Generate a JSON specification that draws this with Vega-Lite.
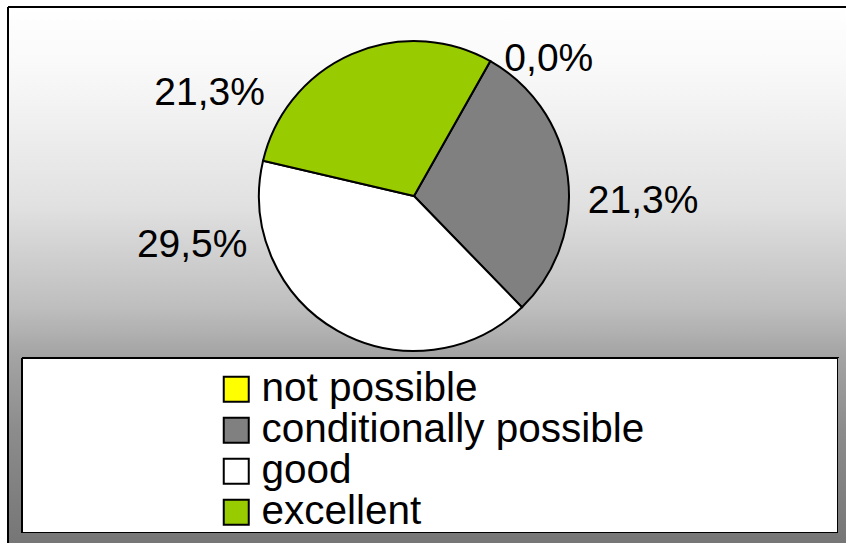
{
  "$schema": "https://vega.github.io/schema/vega-lite/v6.json",
  "background": "white",
  "padding": {"left": 7, "top": 6, "right": 0, "bottom": 0},
  "config": {
    "view": {"stroke": null},
    "font": "Liberation Sans",
    "locale": {"number": {"decimal": ",", "thousands": ".", "grouping": [3], "currency": ["", " €"]}}
  },
  "datasets": {
    "pie": [
      {"idx": 1, "category": "not possible", "share": 0},
      {"idx": 2, "category": "conditionally possible", "share": 0.213},
      {"idx": 3, "category": "good", "share": 0.295},
      {"idx": 4, "category": "excellent", "share": 0.213}
    ]
  },
  "columns": 4,
  "align": "each",
  "bounds": "flush",
  "spacing": 0,
  "concat": [
    {
      "data": {"name": "pie"}, "width": 14, "height": 27,
      "view": {"fill": {"gradient": "linear", "x1": 0, "y1": 0, "x2": 0, "y2": 1, "stops": [{"offset": 0, "color": "#ffffff"}, {"offset": 1, "color": "#fcfcfc"}]},
               "stroke": "black", "strokeWidth": 2, "strokeDash": [14, 41, 27, 0]},
      "mark": {"type": "text", "text": "", "clip": true}, "encoding": {}
    },
    {
      "data": {"name": "pie"}, "width": 784, "height": 27,
      "view": {"fill": {"gradient": "linear", "x1": 0, "y1": 0, "x2": 0, "y2": 1, "stops": [{"offset": 0, "color": "#ffffff"}, {"offset": 1, "color": "#fcfcfc"}]},
               "stroke": "black", "strokeWidth": 2, "strokeDash": [784, 10000]},
      "mark": {"type": "text", "text": "", "clip": true}, "encoding": {}
    },
    {
      "data": {"name": "pie"}, "width": 32, "height": 27,
      "view": {"fill": {"gradient": "linear", "x1": 0, "y1": 0, "x2": 0, "y2": 1, "stops": [{"offset": 0, "color": "#ffffff"}, {"offset": 1, "color": "#fcfcfc"}]},
               "stroke": "black", "strokeWidth": 2, "strokeDash": [32, 10000]},
      "mark": {"type": "text", "text": "", "clip": true}, "encoding": {}
    },
    {
      "data": {"name": "pie"}, "width": 8, "height": 27,
      "view": {"fill": {"gradient": "linear", "x1": 0, "y1": 0, "x2": 0, "y2": 1, "stops": [{"offset": 0, "color": "#ffffff"}, {"offset": 1, "color": "#fcfcfc"}]},
               "stroke": "black", "strokeWidth": 2, "strokeDash": [8, 10000]},
      "mark": {"type": "text", "text": "", "clip": true}, "encoding": {}
    },
    {
      "data": {"name": "pie"}, "width": 14, "height": 324,
      "view": {"fill": {"gradient": "linear", "x1": 0, "y1": 0, "x2": 0, "y2": 1, "stops": [
          {"offset": 0, "color": "#fcfcfc"}, {"offset": 0.082, "color": "#fafafa"}, {"offset": 0.1975, "color": "#f4f4f4"},
          {"offset": 0.528, "color": "#e1e1e1"}, {"offset": 0.645, "color": "#d4d4d4"}, {"offset": 0.843, "color": "#bebebe"},
          {"offset": 0.991, "color": "#a4a4a4"}, {"offset": 1, "color": "#a3a3a3"}]},
               "stroke": "black", "strokeWidth": 2, "strokeDash": [0, 352, 324, 0]},
      "mark": {"type": "text", "text": "", "clip": true}, "encoding": {}
    },
    {
      "data": {"name": "pie"},
      "width": 784,
      "height": 324,
      "view": {"fill": {"gradient": "linear", "x1": 0, "y1": 0, "x2": 0, "y2": 1, "stops": [
          {"offset": 0, "color": "#fcfcfc"}, {"offset": 0.082, "color": "#fafafa"}, {"offset": 0.1975, "color": "#f4f4f4"},
          {"offset": 0.528, "color": "#e1e1e1"}, {"offset": 0.645, "color": "#d4d4d4"}, {"offset": 0.843, "color": "#bebebe"},
          {"offset": 0.991, "color": "#a4a4a4"}, {"offset": 1, "color": "#a3a3a3"}]}},
      "encoding": {
        "theta": {"field": "share", "type": "quantitative", "stack": true, "scale": {"range": [0.515, 6.798]}},
        "order": {"field": "idx", "type": "quantitative"}
      },
      "layer": [
        {
          "mark": {"type": "arc", "outerRadius": 155, "stroke": "black", "strokeWidth": 2},
          "encoding": {
            "color": {
              "field": "category",
              "type": "nominal",
              "scale": {
                "domain": ["not possible", "conditionally possible", "good", "excellent"],
                "range": ["#ffff00", "#808080", "#ffffff", "#99cc00"]
              },
              "legend": {
                "orient": "none",
                "legendX": 208,
                "legendY": 362,
                "title": null,
                "padding": 0,
                "symbolType": "square",
                "symbolSize": 625,
                "symbolStrokeColor": "black",
                "symbolStrokeWidth": 2,
                "labelFont": "Liberation Sans",
                "labelFontSize": 40.5,
                "labelColor": "black",
                "labelLimit": 700,
                "labelOffset": 5,
                "rowPadding": 0
              }
            }
          }
        },
        {
          "mark": {"type": "text", "clip": true, "radius": 225, "dx": 24, "dy": 59, "fontSize": 39, "font": "Liberation Sans", "color": "black", "align": "center", "baseline": "middle"},
          "encoding": {
            "detail": {"field": "category"},
            "text": {"condition": {"test": "datum.category === 'not possible'", "field": "share", "type": "quantitative", "format": ".1%"}, "value": ""}
          }
        },
        {
          "mark": {"type": "text", "clip": true, "radius": 225, "dx": 6, "dy": 34, "fontSize": 39, "font": "Liberation Sans", "color": "black", "align": "center", "baseline": "middle"},
          "encoding": {
            "detail": {"field": "category"},
            "text": {"condition": {"test": "datum.category === 'conditionally possible'", "field": "share", "type": "quantitative", "format": ".1%"}, "value": ""}
          }
        },
        {
          "mark": {"type": "text", "clip": true, "radius": 225, "dx": -111, "dy": -147, "fontSize": 39, "font": "Liberation Sans", "color": "black", "align": "center", "baseline": "middle"},
          "encoding": {
            "detail": {"field": "category"},
            "text": {"condition": {"test": "datum.category === 'good'", "field": "share", "type": "quantitative", "format": ".1%"}, "value": ""}
          }
        },
        {
          "mark": {"type": "text", "clip": true, "radius": 225, "dx": -114, "dy": 103, "fontSize": 39, "font": "Liberation Sans", "color": "black", "align": "center", "baseline": "middle"},
          "encoding": {
            "detail": {"field": "category"},
            "text": {"condition": {"test": "datum.category === 'excellent'", "field": "share", "type": "quantitative", "format": ".1%"}, "value": ""}
          }
        }
      ]
    },
    {
      "data": {"name": "pie"}, "width": 32, "height": 324,
      "view": {"fill": {"gradient": "linear", "x1": 0, "y1": 0, "x2": 0, "y2": 1, "stops": [
          {"offset": 0, "color": "#fcfcfc"}, {"offset": 0.082, "color": "#fafafa"}, {"offset": 0.1975, "color": "#f4f4f4"},
          {"offset": 0.528, "color": "#e1e1e1"}, {"offset": 0.645, "color": "#d4d4d4"}, {"offset": 0.843, "color": "#bebebe"},
          {"offset": 0.991, "color": "#a4a4a4"}, {"offset": 1, "color": "#a3a3a3"}]}},
      "mark": {"type": "text", "text": "", "clip": true}, "encoding": {}
    },
    {
      "data": {"name": "pie"}, "width": 8, "height": 324,
      "view": {"fill": {"gradient": "linear", "x1": 0, "y1": 0, "x2": 0, "y2": 1, "stops": [
          {"offset": 0, "color": "#fcfcfc"}, {"offset": 0.082, "color": "#fafafa"}, {"offset": 0.1975, "color": "#f4f4f4"},
          {"offset": 0.528, "color": "#e1e1e1"}, {"offset": 0.645, "color": "#d4d4d4"}, {"offset": 0.843, "color": "#bebebe"},
          {"offset": 0.991, "color": "#a4a4a4"}, {"offset": 1, "color": "#a3a3a3"}]}},
      "mark": {"type": "text", "text": "", "clip": true}, "encoding": {}
    },
    {
      "data": {"name": "pie"}, "width": 14, "height": 175,
      "view": {"fill": {"gradient": "linear", "x1": 0, "y1": 0, "x2": 0, "y2": 1, "stops": [
          {"offset": 0, "color": "#a3a3a3"}, {"offset": 0.411, "color": "#8c8c8c"}, {"offset": 1, "color": "#787878"}]},
               "stroke": "black", "strokeWidth": 2, "strokeDash": [0, 203, 175, 0]},
      "mark": {"type": "text", "text": "", "clip": true}, "encoding": {}
    },
    {
      "data": {"name": "pie"}, "width": 784, "height": 175,
      "view": {"fill": "white", "stroke": "black", "strokeWidth": 2, "strokeDash": [784, 175, 959, 0]},
      "mark": {"type": "text", "text": "", "clip": true}, "encoding": {}
    },
    {
      "data": {"name": "pie"}, "width": 32, "height": 175,
      "view": {"fill": "white", "stroke": "black", "strokeWidth": 2, "strokeDash": [239, 175]},
      "mark": {"type": "text", "text": "", "clip": true}, "encoding": {}
    },
    {
      "data": {"name": "pie"}, "width": 8, "height": 175,
      "view": {"fill": {"gradient": "linear", "x1": 0, "y1": 0, "x2": 0, "y2": 1, "stops": [
          {"offset": 0, "color": "#a3a3a3"}, {"offset": 0.411, "color": "#8c8c8c"}, {"offset": 1, "color": "#787878"}]}},
      "mark": {"type": "text", "text": "", "clip": true}, "encoding": {}
    },
    {
      "data": {"name": "pie"}, "width": 14, "height": 10,
      "view": {"fill": {"gradient": "linear", "x1": 0, "y1": 0, "x2": 0, "y2": 1, "stops": [{"offset": 0, "color": "#787878"}, {"offset": 1, "color": "#767676"}]},
               "stroke": "black", "strokeWidth": 2, "strokeDash": [0, 38, 10, 0]},
      "mark": {"type": "text", "text": "", "clip": true}, "encoding": {}
    },
    {
      "data": {"name": "pie"}, "width": 784, "height": 10,
      "view": {"fill": {"gradient": "linear", "x1": 0, "y1": 0, "x2": 0, "y2": 1, "stops": [{"offset": 0, "color": "#787878"}, {"offset": 1, "color": "#767676"}]}},
      "mark": {"type": "text", "text": "", "clip": true}, "encoding": {}
    },
    {
      "data": {"name": "pie"}, "width": 32, "height": 10,
      "view": {"fill": {"gradient": "linear", "x1": 0, "y1": 0, "x2": 0, "y2": 1, "stops": [{"offset": 0, "color": "#787878"}, {"offset": 1, "color": "#767676"}]}},
      "mark": {"type": "text", "text": "", "clip": true}, "encoding": {}
    },
    {
      "data": {"name": "pie"}, "width": 8, "height": 10,
      "view": {"fill": {"gradient": "linear", "x1": 0, "y1": 0, "x2": 0, "y2": 1, "stops": [{"offset": 0, "color": "#787878"}, {"offset": 1, "color": "#767676"}]}},
      "mark": {"type": "text", "text": "", "clip": true}, "encoding": {}
    }
  ]
}
